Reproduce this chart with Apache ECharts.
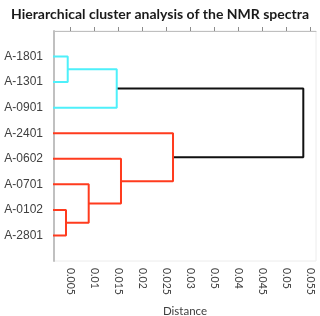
<!DOCTYPE html>
<html>
<head>
<meta charset="utf-8">
<script src="https://cdn.jsdelivr.net/npm/echarts@6/dist/echarts.min.js"></script>
<style>html,body{margin:0;padding:0;background:#fff;}#c{width:320px;height:316px;}</style>
</head>
<body>
<div id="c"></div>
<script>
// Leaves, top to bottom
const leaves = ['A-1801', 'A-1301', 'A-0901', 'A-2401', 'A-0602', 'A-0701', 'A-0102', 'A-2801'];
// Linkage: [childA, childB, distance]; indices < 8 are leaves, >= 8 are earlier merges
const mergeA = [0, 8, 6, 10, 11, 12, 9];
const mergeB = [1, 2, 7, 5, 4, 3, 13];
const mergeDist = [0.00442, 0.01465, 0.00406, 0.0088, 0.01554, 0.0264, 0.0536];
const mergeGroup = ['g1', 'g1', 'g2', 'g2', 'g2', 'g2', 'root'];
// Tick values and their labels as printed
const tickValues = [0.005, 0.01, 0.015, 0.02, 0.025, 0.03, 0.035, 0.04, 0.045, 0.05, 0.055];
const tickLabels = ['0.005', '0.01', '0.015', '0.02', '0.025', '0.03', '0.05', '0.04', '0.045', '0.05', '0.055'];

const groupColor = { g1: '#4ef0fa', g2: '#ff3b1e', root: '#111111' };

const nodeY = leaves.map((_, i) => i + 1);
const nodeH = leaves.map(() => 0);
const series = [];
mergeDist.forEach((d, k) => {
  const a = mergeA[k], b = mergeB[k];
  series.push({
    type: 'line',
    data: [[nodeH[a], nodeY[a]], [d, nodeY[a]], [d, nodeY[b]], [nodeH[b], nodeY[b]]],
    showSymbol: false,
    symbol: 'none',
    lineStyle: { color: groupColor[mergeGroup[k]], width: 2 },
    clip: true,
    animation: false,
    z: mergeGroup[k] === 'root' ? 1 : 2
  });
  nodeY.push((nodeY[a] + nodeY[b]) / 2);
  nodeH.push(d);
});

const chart = echarts.init(document.getElementById('c'), null, { renderer: 'canvas' });
chart.setOption({
  animation: false,
  title: {
    text: 'Hierarchical cluster analysis of the NMR spectra',
    left: 'center', top: 2,
    textStyle: { fontFamily: 'Lato', fontWeight: 'bold', fontSize: 14, color: '#1a1a1a' }
  },
  grid: { left: 54, right: 4, top: 31, bottom: 55, show: true, borderColor: '#ececec', borderWidth: 1,
          containLabel: false, outerBoundsMode: 'none' },
  xAxis: {
    type: 'value',
    min: 0.001555, max: 0.05625,
    name: 'Distance', nameLocation: 'middle', nameGap: 44,
    nameTextStyle: { fontFamily: 'Lato', fontSize: 11.5, color: '#404040' },
    axisLine: { show: true, lineStyle: { color: '#bfbfbf', width: 1 } },
    axisTick: { show: true, inside: true, length: 4, customValues: tickValues, lineStyle: { color: '#8c8c8c' } },
    axisLabel: {
      customValues: tickValues, rotate: -90, margin: 7,
      fontFamily: 'Lato', fontSize: 10.5, color: '#404040',
      formatter: v => { const i = tickValues.findIndex(t => Math.abs(t - v) < 1e-9); return i >= 0 ? tickLabels[i] : ''; }
    },
    splitLine: { show: false }
  },
  yAxis: {
    type: 'value', min: 0, max: 9, inverse: true,
    axisLine: { show: true, lineStyle: { color: '#c0c0c0', width: 2 } },
    axisTick: { show: false },
    axisLabel: {
      customValues: [1, 2, 3, 4, 5, 6, 7, 8], margin: 11,
      fontFamily: 'Liberation Sans', fontSize: 12, color: '#404040',
      formatter: v => leaves[Math.round(v) - 1] || ''
    },
    splitLine: { show: false }
  },
  series: series
});
</script>
</body>
</html>
